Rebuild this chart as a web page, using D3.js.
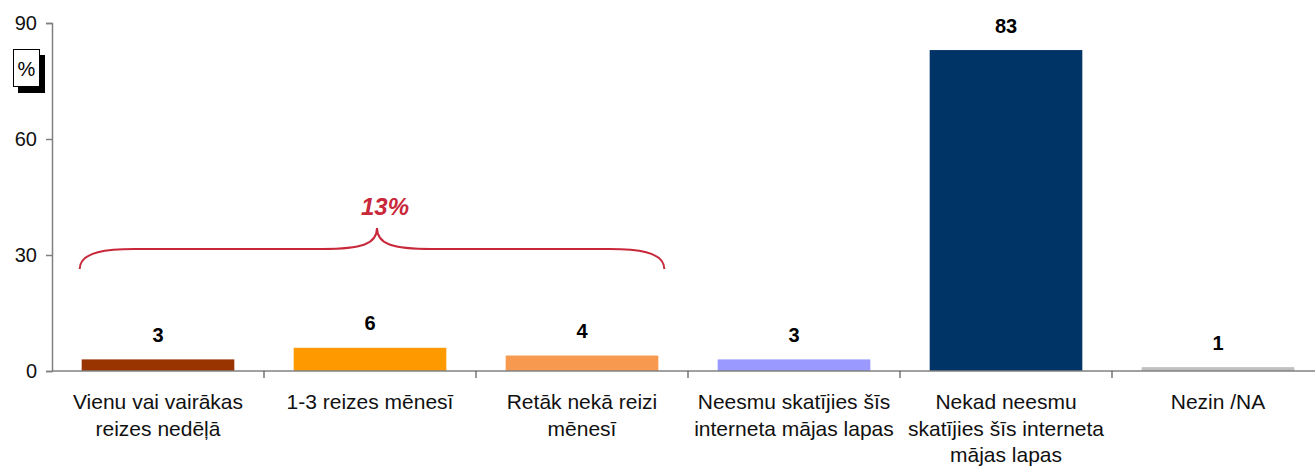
<!DOCTYPE html>
<html>
<head>
<meta charset="utf-8">
<script src="https://cdn.jsdelivr.net/npm/d3@7"></script>
<style>
  body { margin: 0; background: #fff; }
  svg { display: block; font-family: "Liberation Sans", Arial, sans-serif; }
</style>
</head>
<body>
<div id="chart"></div>
<script>
// Dati
var categories = [
  ["Vienu vai vairākas", "reizes nedēļā"],
  ["1-3 reizes mēnesī"],
  ["Retāk nekā reizi", "mēnesī"],
  ["Neesmu skatījies šīs", "interneta mājas lapas"],
  ["Nekad neesmu", "skatījies šīs interneta", "mājas lapas"],
  ["Nezin /NA"]
];
var values = [3, 6, 4, 3, 83, 1];
var colors = ["#993300", "#FF9900", "#F79A50", "#9999FF", "#003366", "#C0C0C0"];
var yTicks = [0, 30, 60, 90];
var braceLabel = "13%";

var width = 1315, height = 466;
var margin = {top: 23, left: 52, bottom: 95};
var step = 212;

var svg = d3.select("#chart").append("svg")
  .attr("width", width)
  .attr("height", height);

var x = d3.scaleBand()
  .domain(d3.range(values.length))
  .range([margin.left, margin.left + step * values.length])
  .paddingInner(0.28)
  .paddingOuter(0.14);

var y = d3.scaleLinear()
  .domain([0, 90])
  .range([height - margin.bottom, margin.top]);

// Y ass
var yAxis = svg.append("g")
  .attr("transform", "translate(" + margin.left + ",0)")
  .call(d3.axisLeft(y).tickValues(yTicks).tickSize(6).tickPadding(9));
yAxis.select(".domain").attr("stroke", "#808080").attr("stroke-width", 1.5);
yAxis.selectAll(".tick line").attr("stroke", "#808080").attr("stroke-width", 1.5);
yAxis.selectAll(".tick text").attr("font-size", 20).attr("fill", "#111")
  .attr("font-family", "Liberation Sans, Arial, sans-serif");

// Stabini
svg.selectAll("rect.bar")
  .data(values)
  .enter()
    .append("rect")
    .attr("class", "bar")
    .attr("x", function(d, i) { return x(i); })
    .attr("y", function(d) { return y(d); })
    .attr("width", x.bandwidth())
    .attr("height", function(d) { return y(0) - y(d); })
    .attr("fill", function(d, i) { return colors[i]; });

// X ass
svg.append("line")
  .attr("x1", margin.left).attr("x2", width)
  .attr("y1", y(0)).attr("y2", y(0))
  .attr("stroke", "#808080").attr("stroke-width", 1.5);

svg.selectAll("line.cat")
  .data(d3.range(1, values.length))
  .enter()
    .append("line")
    .attr("class", "cat")
    .attr("x1", function(i) { return margin.left + step * i; })
    .attr("x2", function(i) { return margin.left + step * i; })
    .attr("y1", y(0)).attr("y2", y(0) + 7)
    .attr("stroke", "#555").attr("stroke-width", 1.2);

// Vērtības
svg.selectAll("text.val")
  .data(values)
  .enter()
    .append("text")
    .attr("class", "val")
    .attr("x", function(d, i) { return x(i) + x.bandwidth() / 2; })
    .attr("y", function(d) { return y(d) - 17.5; })
    .attr("text-anchor", "middle")
    .attr("font-size", 20)
    .attr("font-weight", "bold")
    .attr("fill", "#000")
    .text(function(d) { return d; });

// Kategoriju nosaukumi
var labels = svg.selectAll("text.cat")
  .data(categories)
  .enter()
    .append("text")
    .attr("class", "cat")
    .attr("text-anchor", "middle")
    .attr("font-size", 21)
    .attr("fill", "#111");
labels.selectAll("tspan")
  .data(function(d, i) { return d.map(function(t) { return {t: t, i: i}; }); })
  .enter()
    .append("tspan")
    .attr("x", function(d) { return x(d.i) + x.bandwidth() / 2; })
    .attr("y", function(d, j) { return y(0) + 38 + j * 26.5; })
    .text(function(d) { return d.t; });

// "%" kaste
svg.append("rect").attr("x", 18).attr("y", 55).attr("width", 27).attr("height", 38).attr("fill", "#000");
svg.append("rect").attr("x", 13.5).attr("y", 49.5).attr("width", 26).attr("height", 37)
  .attr("fill", "#fff").attr("stroke", "#000").attr("stroke-width", 1);
svg.append("text").attr("x", 26.5).attr("y", 76).attr("text-anchor", "middle")
  .attr("font-size", 20).text("%");

// Iekava
var bx0 = x(0) - 2, bx1 = x(2) + x.bandwidth() + 6, bmid = 377;
var by0 = 269, by1 = 249, byTop = 228;
var brace = d3.path();
brace.moveTo(bx0, by0);
brace.bezierCurveTo(bx0, by1 + 2, bx0 + 30, by1, bx0 + 55, by1);
brace.lineTo(bmid - 55, by1);
brace.bezierCurveTo(bmid - 15, by1, bmid, by1 - 5, bmid, byTop);
brace.bezierCurveTo(bmid, by1 - 5, bmid + 15, by1, bmid + 55, by1);
brace.lineTo(bx1 - 55, by1);
brace.bezierCurveTo(bx1 - 30, by1, bx1, by1 + 2, bx1, by0);
svg.append("path").attr("d", brace.toString())
  .attr("fill", "none").attr("stroke", "#C8283A").attr("stroke-width", 2);

svg.append("text")
  .attr("x", bmid + 8).attr("y", 215)
  .attr("text-anchor", "middle")
  .attr("font-size", 24).attr("font-weight", "bold").attr("font-style", "italic")
  .attr("fill", "#C8283A")
  .text(braceLabel);
</script>
</body>
</html>
